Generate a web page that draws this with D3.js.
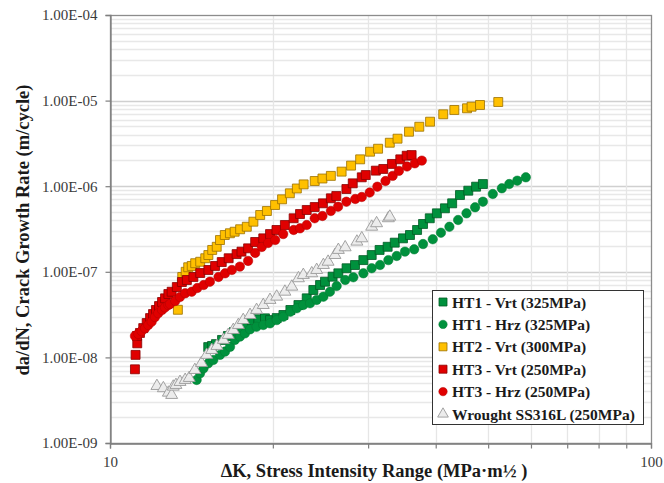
<!DOCTYPE html>
<html>
<head>
<meta charset="utf-8">
<script src="https://cdn.jsdelivr.net/npm/d3@7"></script>
<style>
  html, body { margin: 0; padding: 0; background: #fff; }
  svg { display: block; }
</style>
</head>
<body>
<svg id="chart" width="664" height="483"></svg>
<script>
// ---------------- DATA ----------------
const seriesNames = [
  "HT1 - Vrt (325MPa)",
  "HT1 - Hrz (325MPa)",
  "HT2 - Vrt (300MPa)",
  "HT3 - Vrt (250MPa)",
  "HT3 - Hrz (250MPa)",
  "Wrought SS316L (250MPa)"
];

// HT1 - Vrt (green squares)
const ht1VrtK = [15.19,15.44,15.7,16.11,16.52,16.95,17.39,17.84,18.28,18.8,19.34,19.76,20.33,20.92,21.55,22.3,23.1,23.76,24.45,24.97,25.79,26.43,27.37,28.37,29.4,30.46,31.5,32.6,33.6,34.8,35.85,36.95,37.9,39.0,40.2,41.6,42.9,44.35,45.95,47.5,48.9];
const ht1VrtRate = [1.32e-8,1.36e-8,1.43e-8,1.6e-8,1.78e-8,1.98e-8,2.2e-8,2.46e-8,2.73e-8,2.79e-8,2.86e-8,2.73e-8,2.88e-8,3.13e-8,3.58e-8,4.09e-8,4.9e-8,6.13e-8,7.01e-8,7.66e-8,8.77e-8,9.6e-8,1.1e-7,1.2e-7,1.37e-7,1.57e-7,1.8e-7,1.96e-7,2.19e-7,2.46e-7,2.69e-7,3.08e-7,3.62e-7,4.22e-7,4.82e-7,5.52e-7,6.31e-7,7.89e-7,8.86e-7,9.87e-7,1.06e-6];

// HT1 - Hrz (green circles)
const ht1HrzK = [14.46,14.67,14.89,15.19,15.52,15.97,16.32,16.67,17.02,17.39,17.76,18.15,18.66,19.2,19.76,20.33,20.92,21.55,22.15,22.76,23.43,24.1,24.8,25.5,26.24,27.21,28.17,29.4,30.46,31.56,32.7,33.88,35.09,36.5,37.9,39.5,40.9,42.4,44.0,45.6,47.3,48.9,51.0,53.0,54.7,56.6,58.7];
const ht1HrzRate = [5.45e-9,6.52e-9,7.46e-9,8.53e-9,9.33e-9,1.07e-8,1.17e-8,1.33e-8,1.6e-8,1.75e-8,1.91e-8,2.13e-8,2.28e-8,2.39e-8,2.5e-8,2.73e-8,2.99e-8,3.42e-8,3.75e-8,4.09e-8,4.29e-8,4.69e-8,5.12e-8,5.85e-8,6.82e-8,8.02e-8,8.63e-8,9.6e-8,1.1e-7,1.2e-7,1.37e-7,1.53e-7,1.72e-7,1.83e-7,2.11e-7,2.4e-7,2.86e-7,3.36e-7,4.03e-7,4.82e-7,5.67e-7,6.59e-7,8.11e-7,9.45e-7,1.06e-6,1.16e-6,1.27e-6];

// HT2 - Vrt (orange squares)
const ht2VrtK = [13.35,13.6,13.8,13.95,14.16,14.37,14.68,15.0,15.2,15.45,15.75,15.97,16.3,16.66,17.0,17.4,17.9,18.41,18.95,19.5,20.19,20.8,21.5,22.15,22.8,23.9,24.7,25.6,26.8,27.9,29.0,30.25,31.3,32.9,34.0,35.7,37.3,39.05,41.3,43.3,45.7,46.6,48.3,52.2];
const ht2VrtRate = [3.6e-8,8.7e-8,1.0e-7,1.13e-7,1.17e-7,1.26e-7,1.31e-7,1.44e-7,1.57e-7,1.80e-7,1.96e-7,2.35e-7,2.69e-7,2.82e-7,2.94e-7,3.14e-7,3.36e-7,3.85e-7,4.61e-7,5.13e-7,6.03e-7,7.03e-7,8.26e-7,9.4e-7,1.05e-6,1.15e-6,1.23e-6,1.32e-6,1.48e-6,1.74e-6,2.06e-6,2.53e-6,2.74e-6,3.22e-6,3.59e-6,4.33e-6,4.95e-6,5.67e-6,6.92e-6,7.77e-6,8.13e-6,8.49e-6,8.89e-6,9.63e-6];

// HT3 - Vrt (red squares)
const ht3VrtK = [11.12,11.15,11.23,11.22,11.36,11.52,11.69,11.86,12.01,12.16,12.32,12.48,12.64,12.82,13.0,13.29,13.58,13.87,14.26,14.68,15.2,15.64,16.09,16.57,17.14,17.5,18.0,18.55,19.2,19.76,20.31,21.05,21.85,22.45,23.1,23.9,24.75,25.6,26.2,27.35,28.1,29.2,29.7,31.0,32.0,33.2,34.4,35.35,36.1];
const ht3VrtRate = [7.26e-9,1.07e-8,1.46e-8,1.78e-8,1.93e-8,2.2e-8,2.52e-8,2.88e-8,3.21e-8,3.58e-8,3.98e-8,4.44e-8,4.9e-8,5.5e-8,5.85e-8,6.64e-8,7.6e-8,8.02e-8,8.7e-8,9.68e-8,1.05e-7,1.17e-7,1.30e-7,1.44e-7,1.61e-7,1.72e-7,1.88e-7,2.23e-7,2.46e-7,2.76e-7,3.08e-7,3.52e-7,4.22e-7,4.73e-7,5.27e-7,5.71e-7,6.31e-7,7.22e-7,7.68e-7,9.27e-7,1.08e-6,1.27e-6,1.35e-6,1.52e-6,1.59e-6,1.82e-6,2.06e-6,2.27e-6,2.31e-6];

// HT3 - Hrz (red circles)
const ht3HrzK = [11.12,11.28,11.44,11.61,11.77,11.94,12.11,12.28,12.48,12.64,12.82,12.91,13.2,13.47,13.77,14.16,14.5,14.9,15.3,15.87,16.32,16.8,17.38,18.0,18.55,19.08,19.6,20.2,20.9,21.85,22.45,23.1,23.9,24.7,25.6,26.4,27.35,28.4,29.2,30.2,31.2,32.3,33.3,34.2,35.4,36.6,37.7];
const ht3HrzRate = [1.78e-8,1.88e-8,2.03e-8,2.19e-8,2.39e-8,2.61e-8,2.96e-8,3.28e-8,3.58e-8,3.83e-8,4.09e-8,4.2e-8,4.56e-8,5.08e-8,5.61e-8,5.85e-8,6.47e-8,7.01e-8,7.66e-8,8.7e-8,9.6e-8,1.05e-7,1.15e-7,1.34e-7,1.66e-7,1.95e-7,2.17e-7,2.35e-7,2.76e-7,3.08e-7,3.22e-7,3.52e-7,4.22e-7,4.49e-7,5.13e-7,5.76e-7,6.59e-7,7.09e-7,7.48e-7,8.44e-7,9.87e-7,1.15e-6,1.32e-6,1.51e-6,1.70e-6,1.85e-6,1.99e-6];

// Wrought SS316L (grey triangles)
const wroughtK = [12.21,12.55,12.82,13.0,13.09,13.24,13.47,13.77,14.01,14.35,14.76,15.09,15.42,15.76,16.2,16.54,16.9,17.27,17.63,18.15,18.66,19.2,19.76,20.33,21.05,21.68,22.3,22.77,23.6,24.1,24.8,25.3,26.05,26.43,27.21,28.6,29.2,30.46,31.1,32.7,32.9];
const wroughtRate = [4.63e-9,4.36e-9,3.87e-9,3.64e-9,4.55e-9,4.76e-9,5.16e-9,5.45e-9,5.75e-9,7.12e-9,8.6e-9,1.07e-8,1.22e-8,1.36e-8,1.6e-8,1.83e-8,2.09e-8,2.39e-8,2.73e-8,3.13e-8,3.58e-8,4.09e-8,4.69e-8,5.12e-8,5.85e-8,6.7e-8,8.4e-8,9.18e-8,9.6e-8,1.05e-7,1.2e-7,1.31e-7,1.57e-7,1.8e-7,1.93e-7,2.25e-7,2.46e-7,3.36e-7,3.69e-7,4.22e-7,4.4e-7];

// Axis ticks
const xTickValues = [10,20,30,40,50,60,70,80,90,100];
const xTickLabels = ["10","","","","","","","","","100"];
const yTickValues = [1e-9,1e-8,1e-7,1e-6,1e-5,1e-4];
const yTickLabels = ["1.00E-09","1.00E-08","1.00E-07","1.00E-06","1.00E-05","1.00E-04"];
const xTitle = "\u0394K, Stress Intensity Range (MPa\u00B7m\u00BD )";
const yTitle = "da/dN, Crack Growth Rate (m/cycle)";

// ---------------- CHART ----------------
const svg = d3.select("#chart");
const M = {left: 110, right: 651, top: 15, bottom: 443};
const x = d3.scaleLog().domain([10, 100]).range([M.left, M.right]);
const y = d3.scaleLog().domain([1e-9, 1e-4]).range([M.bottom, M.top]);
const FONT = "'Liberation Serif', 'Times New Roman', serif";

// grid
const grid = svg.append("g");
const yGridVals = [];
for (let e = -9; e < -4; e++) for (let m = 1; m <= 9; m++) yGridVals.push(m * Math.pow(10, e));
grid.selectAll("line.hy").data(yGridVals).join("line")
  .attr("x1", M.left).attr("x2", M.right)
  .attr("y1", d => Math.round(y(d)) + 0.5).attr("y2", d => Math.round(y(d)) + 0.5)
  .attr("stroke", (d, i) => i % 9 === 0 ? "#d0d0d0" : "#e8e8e8")
  .attr("stroke-width", 1.3);
grid.selectAll("line.vx").data(xTickValues.slice(1, -1)).join("line")
  .attr("y1", M.top).attr("y2", M.bottom)
  .attr("x1", d => Math.round(x(d)) + 0.5).attr("x2", d => Math.round(x(d)) + 0.5)
  .attr("stroke", "#e6e6e6").attr("stroke-width", 1.3);

// plot border
svg.append("rect")
  .attr("x", M.left + 0.5).attr("y", M.top + 0.5)
  .attr("width", M.right - M.left).attr("height", M.bottom - M.top)
  .attr("fill", "none").attr("stroke", "#8c8c8c").attr("stroke-width", 1.3);

// axes
const xAxis = svg.append("g").attr("transform", `translate(0,${M.bottom + 0.5})`)
  .call(d3.axisBottom(x).tickValues(xTickValues).tickSize(5).tickPadding(8)
    .tickFormat((d, i) => xTickLabels[i]));
const yAxis = svg.append("g").attr("transform", `translate(${M.left + 0.5},0)`)
  .call(d3.axisLeft(y).tickValues(yTickValues).tickSize(5).tickPadding(8)
    .tickFormat((d, i) => yTickLabels[i]));
[xAxis, yAxis].forEach(a => {
  a.select(".domain").attr("stroke", "#7f7f7f").attr("stroke-width", 1.3);
  a.selectAll(".tick line").attr("stroke", "#7f7f7f").attr("stroke-width", 1.2);
  a.selectAll(".tick text").attr("font-family", FONT).attr("font-size", 15).attr("fill", "#3a3a3a");
});

// titles
svg.append("text").attr("x", 374).attr("y", 477).attr("text-anchor", "middle")
  .attr("font-family", FONT).attr("font-weight", "bold").attr("font-size", 18.5).attr("fill", "#1a1a1a")
  .text(xTitle);
svg.append("text").attr("transform", "translate(29,230) rotate(-90)").attr("text-anchor", "middle")
  .attr("font-family", FONT).attr("font-weight", "bold").attr("font-size", 18.5).attr("fill", "#1a1a1a")
  .text(yTitle);

// markers
const styles = [
  {shape: d3.symbolSquare, size: 80, fill: "#00913d", stroke: "#005a24", sw: 0.8},
  {shape: d3.symbolCircle, size: 70, fill: "#00913d", stroke: "#007a33", sw: 0.5},
  {shape: d3.symbolSquare, size: 80, fill: "#ffc000", stroke: "#9a7000", sw: 0.8},
  {shape: d3.symbolSquare, size: 80, fill: "#e00000", stroke: "#8a0000", sw: 0.8},
  {shape: d3.symbolCircle, size: 70, fill: "#e00000", stroke: "#b00000", sw: 0.5},
  {shape: d3.symbolTriangle, size: 62, fill: "#ececec", stroke: "#9a9a9a", sw: 0.9}
];
const allK = [ht1VrtK, ht1HrzK, ht2VrtK, ht3VrtK, ht3HrzK, wroughtK];
const allR = [ht1VrtRate, ht1HrzRate, ht2VrtRate, ht3VrtRate, ht3HrzRate, wroughtRate];

const pts = svg.append("g");
allK.forEach((ks, si) => {
  const data = d3.zip(ks, allR[si]);
  const st = styles[si];
  pts.append("g").selectAll("path").data(data).join("path")
    .attr("transform", d => `translate(${x(d[0])},${y(d[1])})`)
    .attr("d", d3.symbol().type(st.shape).size(st.size))
    .attr("fill", st.fill).attr("stroke", st.stroke).attr("stroke-width", st.sw);
});

// legend
const lg = svg.append("g");
lg.append("rect").attr("x", 432.5).attr("y", 290.5).attr("width", 211).attr("height", 134)
  .attr("fill", "#fff").attr("stroke", "#333").attr("stroke-width", 1);
seriesNames.forEach((name, i) => {
  const cy = 302 + i * 22.4;
  const st = styles[i];
  lg.append("path").attr("transform", `translate(443,${cy})`)
    .attr("d", d3.symbol().type(st.shape).size(st.size * 0.8))
    .attr("fill", st.fill).attr("stroke", st.stroke).attr("stroke-width", st.sw);
  lg.append("text").attr("x", 452).attr("y", cy + 5.5)
    .attr("font-family", FONT).attr("font-weight", "bold").attr("font-size", 15.5).attr("fill", "#1a1a1a")
    .text(name);
});
</script>
</body>
</html>
